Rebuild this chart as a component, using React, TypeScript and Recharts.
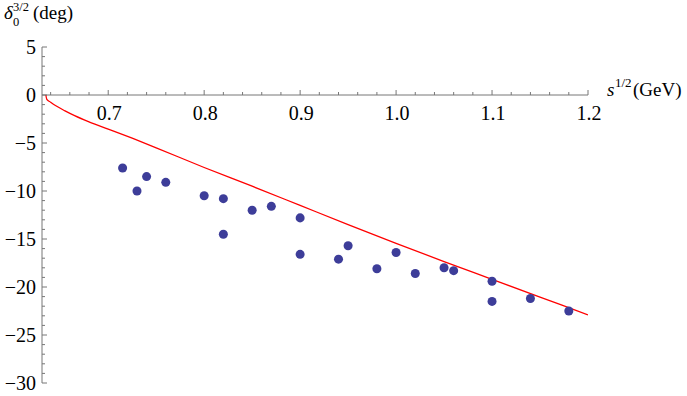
import React from 'react';
import {
  ComposedChart,
  Line,
  Scatter,
  XAxis,
  YAxis,
  ReferenceLine,
} from 'recharts';

// phase shift curve (model)
const curveX = [0.635, 0.636, 0.64, 0.645, 0.655, 0.665, 0.68, 0.7, 0.725, 0.75, 0.8, 0.85, 0.9, 0.95, 1.0, 1.05, 1.1, 1.15, 1.2];
const curveY = [0, -0.45, -0.75, -1.1, -1.65, -2.15, -2.8, -3.55, -4.5, -5.5, -7.55, -9.5, -11.5, -13.5, -15.45, -17.35, -19.2, -21.05, -22.9];

// experimental points
const dataX = [0.715, 0.73, 0.74, 0.76, 0.8, 0.82, 0.82, 0.85, 0.87, 0.9, 0.9, 0.94, 0.95, 0.98, 1.0, 1.02, 1.05, 1.06, 1.1, 1.1, 1.14, 1.18];
const dataY = [-7.6, -10.0, -8.5, -9.1, -10.5, -10.8, -14.5, -12.0, -11.6, -12.8, -16.6, -17.1, -15.7, -18.1, -16.4, -18.6, -18.0, -18.3, -19.4, -21.5, -21.2, -22.5];

const xMajor = [0.7, 0.8, 0.9, 1.0, 1.1, 1.2];
const xLabels = ['0.7', '0.8', '0.9', '1.0', '1.1', '1.2'];
const yMajor = [5, 0, -5, -10, -15, -20, -25, -30];
const yLabels = ['5', '0', '\u22125', '\u221210', '\u221215', '\u221220', '\u221225', '\u221230'];

const X_MIN = 0.631;
const X_MAX = 1.2;
const Y_MIN = -30;
const Y_MAX = 5;

// minor ticks every 0.02 GeV and every 1 degree
const xTicks = Array.from({ length: 29 }, (_, i) => Number((0.64 + i * 0.02).toFixed(2)));
const yTicks = Array.from({ length: 36 }, (_, i) => Y_MIN + i);

const W = 687;
const H = 396;
const MARGIN = { top: 47, right: 99, bottom: 12, left: 0 };
const X_AXIS_H = 1;
const PLOT_H = H - MARGIN.top - MARGIN.bottom - X_AXIS_H;
const ZERO_Y = MARGIN.top + (PLOT_H * Y_MAX) / (Y_MAX - Y_MIN);

const SERIF = 'Liberation Serif';
const AXIS = '#777777';
const FONT = 20;

const curve = curveX.map((x, i) => ({ x, y: curveY[i] }));
const points = dataX.map((x, i) => ({ x, y: dataY[i] }));

const txt = (size: number, italic = false): React.CSSProperties => ({
  fontFamily: SERIF,
  fontSize: size,
  fontStyle: italic ? 'italic' : 'normal',
});

const XTick = (props: any) => {
  const { x, payload } = props;
  const v = payload.value;
  const idx = xMajor.findIndex((m) => Math.abs(m - v) < 1e-6);
  const len = idx >= 0 ? 5 : 3;
  return (
    <g>
      <line x1={x} x2={x} y1={ZERO_Y} y2={ZERO_Y - len} stroke={AXIS} strokeWidth={1} />
      {idx >= 0 && (
        <text x={x + 1} y={ZERO_Y + 25} textAnchor="middle" style={txt(FONT)} fill="#000">
          {xLabels[idx]}
        </text>
      )}
    </g>
  );
};

const YTick = (props: any) => {
  const { x, y, payload } = props;
  const v = payload.value;
  const idx = yMajor.indexOf(v);
  const len = idx >= 0 ? 5 : 3;
  return (
    <g>
      <line x1={x} x2={x + len} y1={y} y2={y} stroke={AXIS} strokeWidth={1} />
      {idx >= 0 && (
        <text x={x - 6} y={y + 7} textAnchor="end" style={txt(FONT)} fill="#000">
          {yLabels[idx]}
        </text>
      )}
    </g>
  );
};

const YTitle = () => (
  <g fill="#000">
    <text x={4} y={19} style={txt(19, true)}>δ</text>
    <text x={13} y={25.5} style={txt(12.5)}>0</text>
    <text x={13} y={11} style={txt(12.5)}>3/2</text>
    <text x={33} y={19} style={txt(19)}>(deg)</text>
  </g>
);

const XTitle = () => (
  <g fill="#000">
    <text x={607} y={96} style={txt(19, true)}>s</text>
    <text x={615} y={87} style={txt(13)}>1/2</text>
    <text x={633} y={96} style={txt(19)}>(GeV)</text>
  </g>
);

export default function App() {
  return (
    <div style={{ position: 'absolute', left: 0, top: 0, width: W, height: H, background: '#fff' }}>
      <ComposedChart width={W} height={H} margin={MARGIN}>
        <XAxis
          type="number"
          dataKey="x"
          domain={[X_MIN, X_MAX]}
          ticks={xTicks}
          interval={0}
          height={X_AXIS_H}
          axisLine={false}
          tickLine={false}
          tickSize={0}
          tickMargin={0}
          tick={<XTick />}
          allowDataOverflow
          label={{ content: () => <XTitle /> }}
        />
        <YAxis
          type="number"
          dataKey="y"
          domain={[Y_MIN, Y_MAX]}
          ticks={yTicks}
          interval={0}
          width={42}
          axisLine={{ stroke: AXIS, strokeWidth: 1 }}
          tickLine={false}
          tickSize={0}
          tickMargin={0}
          tick={<YTick />}
          allowDataOverflow
          label={{ content: () => <YTitle /> }}
        />
        <ReferenceLine y={0} stroke={AXIS} strokeWidth={1} />
        <Line
          data={curve}
          dataKey="y"
          type="monotone"
          stroke="#ff0000"
          strokeWidth={1.3}
          dot={false}
          isAnimationActive={false}
        />
        <Scatter data={points} dataKey="y" fill="#3d3d99" isAnimationActive={false} />
      </ComposedChart>
    </div>
  );
}
